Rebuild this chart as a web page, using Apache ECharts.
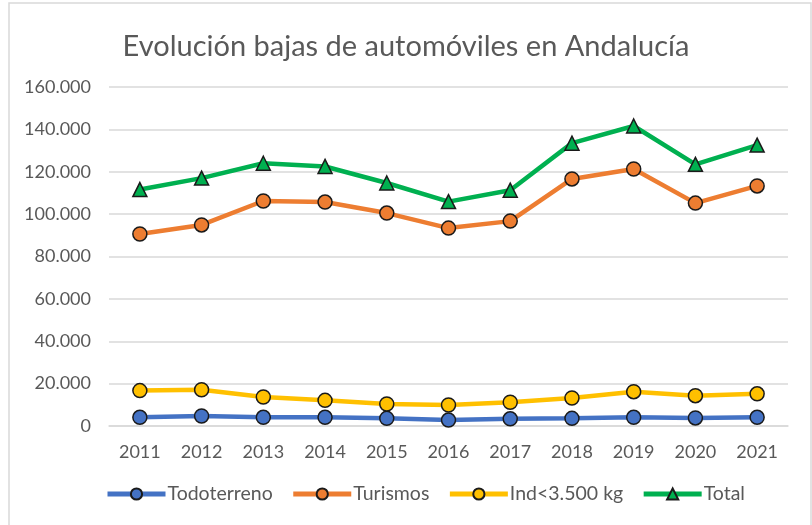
<!DOCTYPE html>
<html>
<head>
<meta charset="utf-8">
<script src="https://cdn.jsdelivr.net/npm/echarts@6/dist/echarts.min.js"></script>
<style>html,body{margin:0;padding:0;background:#fff;}#c{width:812px;height:525px;}</style>
</head>
<body>
<div id="c"></div>
<script>
const years = ['2011','2012','2013','2014','2015','2016','2017','2018','2019','2020','2021'];
const todoterreno = [4100, 4700, 4100, 4100, 3600, 2800, 3400, 3600, 4100, 3800, 4100];
const turismos = [90600, 94900, 106200, 105700, 100500, 93400, 96700, 116600, 121300, 105200, 113300];
const industriales = [16700, 17100, 13700, 12100, 10400, 9900, 11200, 13200, 16200, 14300, 15200];
const total = [111600, 117000, 124000, 122500, 114700, 105900, 111300, 133500, 141600, 123500, 132600];
const seriesNames = ['Todoterreno', 'Turismos', 'Ind<3.500 kg', 'Total'];
const titleText = 'Evolución bajas de automóviles en Andalucía';

const font = 'Lato, "Noto Sans", sans-serif';
const fmt = v => String(v).replace(/\B(?=(\d{3})+(?!\d))/g, '.');
function mk(name, data, color, symbol, size) {
  return {
    name: name, type: 'line', data: data, symbol: symbol, symbolSize: size,
    lineStyle: {width: 4.5, color: color},
    itemStyle: {color: color, borderColor: '#1a1a1a', borderWidth: 1.5},
    emphasis: {disabled: true}, animation: false
  };
}
const chart = echarts.init(document.getElementById('c'));
chart.setOption({
  backgroundColor: '#fff',
  animation: false,
  graphic: [{type: 'rect', shape: {x: 9, y: 3, width: 802, height: 530}, style: {fill: 'none', stroke: '#d9d9d9', lineWidth: 1.5}, silent: true}],
  title: {text: titleText, left: 'center', top: 27, textStyle: {fontFamily: font, fontWeight: 'normal', fontSize: 29, color: '#595959'}},
  grid: {left: 109, right: 24, top: 87, bottom: 99},
  xAxis: {
    type: 'category', data: years, boundaryGap: true,
    axisLine: {show: true, lineStyle: {color: '#d9d9d9', width: 1.5}},
    axisTick: {show: false},
    axisLabel: {fontFamily: font, fontSize: 18, color: '#595959', margin: 17}
  },
  yAxis: {
    type: 'value', min: 0, max: 160000, interval: 20000,
    axisLine: {show: false}, axisTick: {show: false},
    splitLine: {lineStyle: {color: '#d9d9d9', width: 1.5}},
    axisLabel: {fontFamily: font, fontSize: 18, color: '#595959', margin: 18, formatter: fmt}
  },
  legend: {
    bottom: 16, left: 100, itemWidth: 58, itemHeight: 14, itemGap: 18,
    lineStyle: {width: 5},
    textStyle: {fontFamily: font, fontSize: 19.5, color: '#595959', padding: [0, 0, 0, -3]},
    data: seriesNames
  },
  series: [
    mk(seriesNames[0], todoterreno, '#4472c4', 'circle', 14),
    mk(seriesNames[1], turismos, '#ed7d31', 'circle', 14),
    mk(seriesNames[2], industriales, '#ffc000', 'circle', 14),
    mk(seriesNames[3], total, '#00b050', 'triangle', 14)
  ]
});
</script>
</body>
</html>
